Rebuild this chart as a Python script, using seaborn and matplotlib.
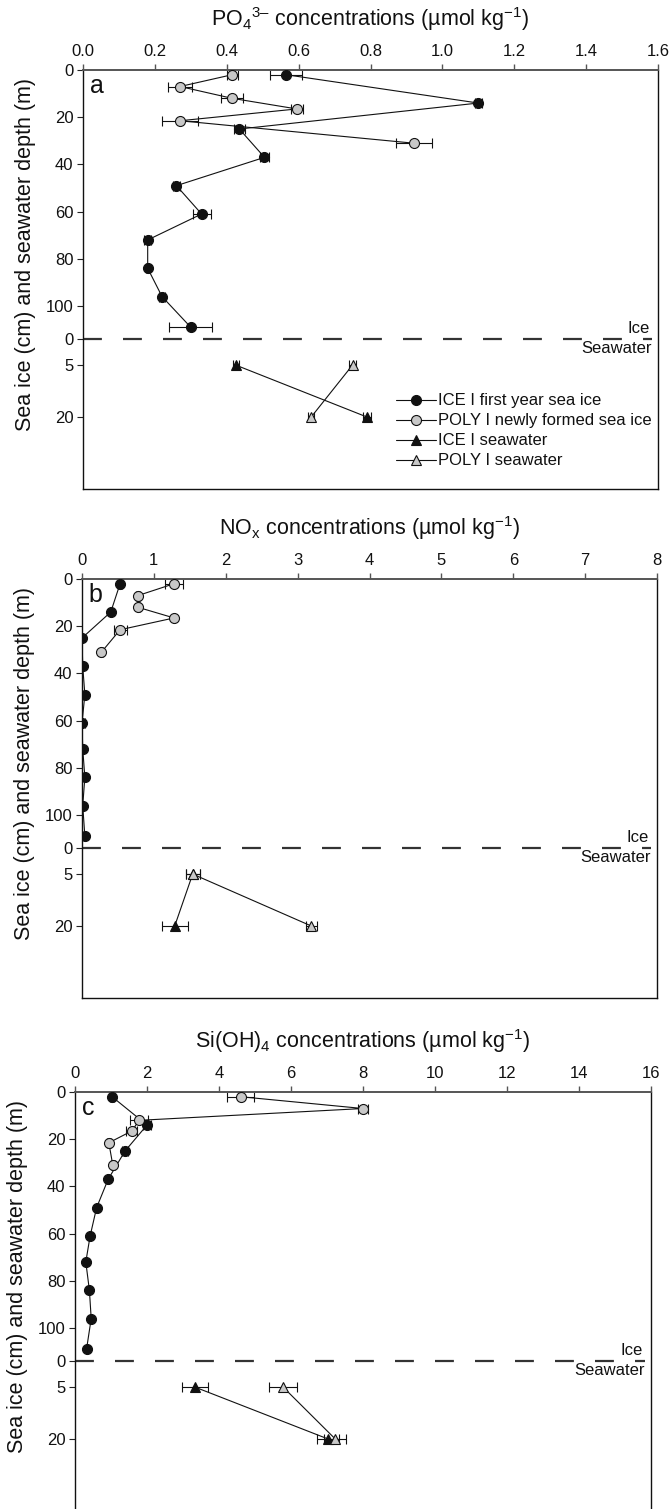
import numpy as np
import pandas as pd
import matplotlib
matplotlib.use("Agg")
import matplotlib.pyplot as plt
import seaborn as sns

# sample depths
ice_depth = [2, 14, 25, 37, 49, 61, 72, 84, 96, 109]   # ICE I core sections (cm)
poly_depth = [2, 7, 12, 16.5, 21.5, 31]                # POLY I core sections (cm)
sw_depth = [5, 20]                                     # seawater (m)

# a - PO4 (umol/kg)
po4_ice = [0.565, 1.10, 0.435, 0.505, 0.26, 0.33, 0.18, 0.18, 0.22, 0.30]
po4_ice_err = [0.045, 0.01, 0.015, 0.012, 0.01, 0.025, 0.01, 0.005, 0.008, 0.06]
po4_poly = [0.415, 0.27, 0.415, 0.595, 0.27, 0.92]
po4_poly_err = [0.015, 0.033, 0.03, 0.017, 0.05, 0.05]
po4_sw_ice = [0.425, 0.79]
po4_sw_ice_err = [0.008, 0.012]
po4_sw_poly = [0.75, 0.635]
po4_sw_poly_err = [0.01, 0.008]

# b - NOx (umol/kg)
nox_ice = [0.53, 0.40, 0.0, 0.01, 0.04, 0.0, 0.01, 0.04, 0.01, 0.04]
nox_ice_err = [0.03, 0.01, 0.0, 0.0, 0.0, 0.04, 0.0, 0.0, 0.0, 0.0]
nox_poly = [1.28, 0.78, 0.78, 1.28, 0.53, 0.27]
nox_poly_err = [0.12, 0.03, 0.02, 0.02, 0.09, 0.02]
nox_sw_ice = [1.54, 1.29]
nox_sw_ice_err = [0.1, 0.18]
nox_sw_poly = [1.54, 3.19]
nox_sw_poly_err = [0.1, 0.08]

# c - Si(OH)4 (umol/kg)
si_ice = [1.03, 2.0, 1.39, 0.92, 0.6, 0.42, 0.30, 0.40, 0.45, 0.32]
si_ice_err = [0.05, 0.1, 0.08, 0.03, 0.03, 0.02, 0.02, 0.02, 0.02, 0.02]
si_poly = [4.6, 8.0, 1.78, 1.58, 0.94, 1.05]
si_poly_err = [0.38, 0.14, 0.26, 0.15, 0.05, 0.05]
si_sw_ice = [3.33, 7.03]
si_sw_ice_err = [0.37, 0.3]
si_sw_poly = [5.78, 7.23]
si_sw_poly_err = [0.4, 0.3]

labels = ["ICE I first year sea ice", "POLY I newly formed sea ice",
          "ICE I seawater", "POLY I seawater"]

# y axis: ice depth in cm on top, seawater depth (m) squeezed below the dashed line
ICE_BOTTOM = 114
SW_TICKS = [0, 5, 20]
SW_OFFSETS = [0, 11, 33]
Y_BOTTOM = 177.5


def sw_pos(z):
    return ICE_BOTTOM + np.interp(z, SW_TICKS, SW_OFFSETS)


sns.set_style("ticks")
plt.rcParams["font.family"] = ["Liberation Sans", "DejaVu Sans"]
plt.rcParams["mathtext.fontset"] = "custom"
plt.rcParams["mathtext.rm"] = "Liberation Sans"
plt.rcParams["mathtext.it"] = "Liberation Sans:italic"
plt.rcParams["mathtext.bf"] = "Liberation Sans:bold"
for key in ["text.color", "axes.labelcolor", "xtick.labelcolor", "ytick.labelcolor"]:
    plt.rcParams[key] = "#111111"

GRAY = "#c8c8c8"
W, H = 672, 1509
fig = plt.figure(figsize=(W / 100, H / 100), dpi=100)


def add_panel(left_px, top_px, width_px=575, height_px=419):
    return fig.add_axes([left_px / W, (H - top_px - height_px) / H,
                         width_px / W, height_px / H])


def draw(ax, xvals, title, letter, xmax, xticks, xfmt, legend=False):
    ice, ice_err, poly, poly_err, swi, swi_err, swp, swp_err = xvals
    styles = [
        (ice, ice_err, ice_depth, "o", "#111111", 7.2),
        (poly, poly_err, poly_depth, "o", GRAY, 7.2),
        (swi, swi_err, sw_pos(sw_depth), "^", "#111111", 7.0),
        (swp, swp_err, sw_pos(sw_depth), "^", GRAY, 7.0),
    ]
    for (x, err, y, mk, fc, ms), lab in zip(styles, labels):
        df = pd.DataFrame({"x": x, "y": y})
        ax.errorbar(df["x"], df["y"], xerr=err, fmt="none", ecolor="#111111",
                    elinewidth=0.8, capsize=3.3, capthick=0.8, zorder=2)
        sns.lineplot(data=df, x="x", y="y", sort=False, estimator=None,
                     ax=ax, color="#111111", lw=0.8, marker=mk, ms=ms,
                     mfc=fc, mec="#111111", mew=0.8, zorder=3,
                     label=lab if legend else None)

    ax.axhline(ICE_BOTTOM, xmin=0, xmax=0.99, color="#333333", lw=1.6,
               ls=(0, (8.5, 9.5)), zorder=1)
    ax.text(0.985, ICE_BOTTOM - 1.5, "Ice", transform=ax.get_yaxis_transform(),
            ha="right", va="bottom", fontsize=12)
    ax.text(0.99, ICE_BOTTOM + 1.0, "Seawater", transform=ax.get_yaxis_transform(),
            ha="right", va="top", fontsize=12)

    ax.set_xlim(0, xmax)
    ax.set_ylim(Y_BOTTOM, 0)
    ax.xaxis.tick_top()
    ax.set_xticks(xticks)
    ax.set_xticklabels([xfmt.format(t) for t in xticks])
    yt = [0, 20, 40, 60, 80, 100] + list(sw_pos(SW_TICKS))
    ax.set_yticks(yt)
    ax.set_yticklabels(["0", "20", "40", "60", "80", "100", "0", "5", "20"])
    ax.tick_params(axis="x", top=True, bottom=False, direction="out", length=4,
                   width=1.0, color="#555555", labelsize=12, pad=4)
    ax.tick_params(axis="y", left=True, direction="out", length=4, width=0.8,
                   color="#222222", labelsize=12, pad=3)
    for side in ["left", "right", "bottom"]:
        ax.spines[side].set_color("#111111")
        ax.spines[side].set_linewidth(1.0)
    ax.spines["top"].set_color("#555555")
    ax.spines["top"].set_linewidth(1.4)

    ax.set_xlabel("")
    ax.set_ylabel("Sea ice (cm) and seawater depth (m)", fontsize=15.5, va="center")
    ax.yaxis.set_label_coords(-0.1, 0.56)
    ax.text(0.5, 1 + 51 / 419, title, transform=ax.transAxes, ha="center",
            va="center", fontsize=15.5)
    ax.text(0.012, 1 - 16 / 419, letter, transform=ax.transAxes, ha="left",
            va="center", fontsize=18)

    if legend:
        ax.legend(loc="upper left", bbox_to_anchor=(0.545, 0.228), frameon=False,
                  fontsize=12, handlelength=2.4, handletextpad=0.1,
                  labelspacing=0.3, borderpad=0, borderaxespad=0)
    elif ax.get_legend() is not None:
        ax.get_legend().remove()


ax_a = add_panel(83, 70)
draw(ax_a, (po4_ice, po4_ice_err, po4_poly, po4_poly_err,
            po4_sw_ice, po4_sw_ice_err, po4_sw_poly, po4_sw_poly_err),
     "PO$_4$$^{3–}$ concentrations (µmol kg$^{-1}$)", "a",
     1.6, np.arange(0, 1.61, 0.2), "{:.1f}", legend=True)

ax_b = add_panel(82, 579)
draw(ax_b, (nox_ice, nox_ice_err, nox_poly, nox_poly_err,
            nox_sw_ice, nox_sw_ice_err, nox_sw_poly, nox_sw_poly_err),
     r"NO$_\mathrm{x}$ concentrations (µmol kg$^{-1}$)", "b",
     8, np.arange(0, 9, 1), "{:.0f}")

ax_c = add_panel(75, 1092, width_px=576)
draw(ax_c, (si_ice, si_ice_err, si_poly, si_poly_err,
            si_sw_ice, si_sw_ice_err, si_sw_poly, si_sw_poly_err),
     r"Si(OH)$_4$ concentrations (µmol kg$^{-1}$)", "c",
     16, np.arange(0, 17, 2), "{:.0f}")
ax_c.spines["bottom"].set_visible(False)

fig.savefig("out.png", dpi=100)
